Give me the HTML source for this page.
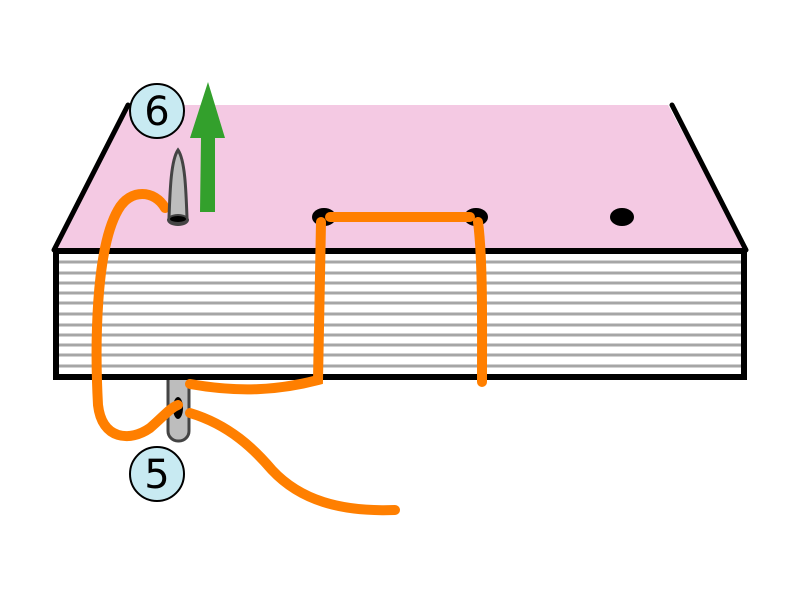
<!DOCTYPE html>
<html><head><style>body{margin:0;background:#fff}svg{display:block}</style></head><body>
<svg width="800" height="600" viewBox="0 0 800 600" xmlns="http://www.w3.org/2000/svg">
<!-- bottom needle (behind book) -->
<rect x="168" y="360" width="21" height="81" rx="10" fill="#bdbdbd" stroke="#444" stroke-width="3"/>
<ellipse cx="178" cy="408" rx="5" ry="11" fill="#000"/>
<polygon points="54,250 128,105 668,105 746,250" fill="#f4c9e3"/>
<rect x="56" y="250" width="688" height="127" fill="#fff"/>
<g stroke="#a6a6a6" stroke-width="3">
<line x1="56" y1="262" x2="744" y2="262"/><line x1="56" y1="273" x2="744" y2="273"/>
<line x1="56" y1="283" x2="744" y2="283"/><line x1="56" y1="293" x2="744" y2="293"/>
<line x1="56" y1="303" x2="744" y2="303"/><line x1="56" y1="314" x2="744" y2="314"/>
<line x1="56" y1="325" x2="744" y2="325"/><line x1="56" y1="335" x2="744" y2="335"/>
<line x1="56" y1="345" x2="744" y2="345"/><line x1="56" y1="355" x2="744" y2="355"/>
<line x1="56" y1="366" x2="744" y2="366"/>
</g>
<rect x="56" y="251" width="688" height="126" fill="none" stroke="#000" stroke-width="6"/>
<g stroke="#000" stroke-width="5" stroke-linecap="round" fill="none">
<line x1="54" y1="250" x2="128" y2="105"/><line x1="672" y1="105" x2="746" y2="250"/>
</g>
<ellipse cx="324" cy="217" rx="12" ry="9" fill="#000"/>
<ellipse cx="476" cy="217" rx="12" ry="9" fill="#000"/>
<ellipse cx="622" cy="217" rx="12" ry="9" fill="#000"/>
<polygon points="200,212 215,212 215,138 225,138 208,82 190,138 201,138" fill="#33a02c"/>
<g stroke="#ff7f00" stroke-width="10" stroke-linecap="round" fill="none">
<path d="M190,384 C240,393 280,390 318,380 L321,222"/>
<path d="M330,217 L470,217"/>
<path d="M478,222 C483,260 482,330 482,382"/>
<path d="M165,208 C155,190 130,188 118,210 C95,250 95,350 98,405 C102,440 130,442 150,428 C165,415 170,408 178,405"/>
<path d="M190,413 C230,425 255,450 272,470 C300,500 340,512 395,510"/>
</g>
<path d="M169,218 C170,190 171,160 178,150 C185,160 186,190 187,218 Z" fill="#bdbdbd" stroke="#444" stroke-width="3"/>
<ellipse cx="178" cy="220" rx="11" ry="6" fill="#444"/>
<ellipse cx="178" cy="219" rx="8" ry="3" fill="#000"/>
<g font-family="DejaVu Sans, sans-serif" font-size="40" text-anchor="middle">
<circle cx="157" cy="111" r="27" fill="#c8eaf2" stroke="#000" stroke-width="2"/>
<text x="157" y="125">6</text>
<circle cx="157" cy="474" r="27" fill="#c8eaf2" stroke="#000" stroke-width="2"/>
<text x="157" y="488">5</text>
</g>
</svg>
</body></html>
